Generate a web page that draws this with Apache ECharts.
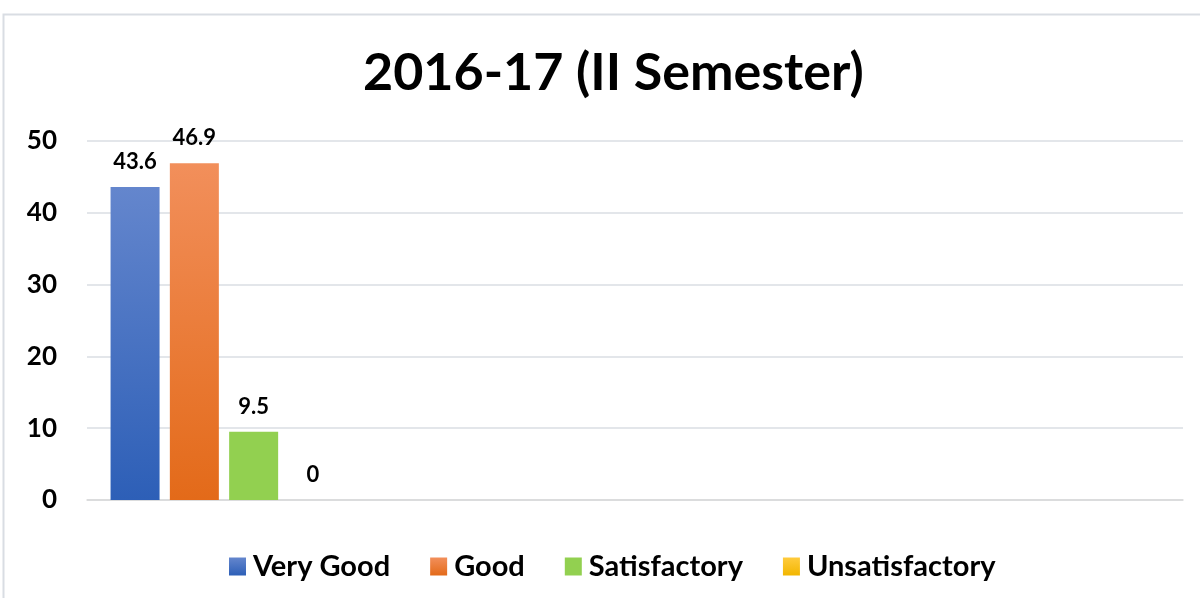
<!DOCTYPE html>
<html>
<head>
<meta charset="utf-8">
<script src="https://cdn.jsdelivr.net/npm/echarts@6/dist/echarts.min.js"></script>
<style>
  html, body { margin: 0; padding: 0; background: #fff; }
  #chart { width: 1200px; height: 598px; }
</style>
</head>
<body>
<div id="chart"></div>
<script>
// data
var categories = ["", "", "", ""];
var seriesNames = ["Very Good", "Good", "Satisfactory", "Unsatisfactory"];
var veryGood = [43.6, null, null, null];
var good = [46.9, null, null, null];
var satisfactory = [9.5, null, null, null];
var unsatisfactory = [0, null, null, null];
var yTicks = [0, 10, 20, 30, 40, 50];

var chart = echarts.init(document.getElementById("chart"));

function grad(top, bottom) {
  return new echarts.graphic.LinearGradient(0, 0, 0, 1, [
    { offset: 0, color: top },
    { offset: 1, color: bottom }
  ]);
}

var colors = [
  grad("#6486cd", "#2d5fb7"),
  grad("#f28f5b", "#e36a19"),
  "#92d050",
  grad("#ffcb3d", "#f2b600")
];

var font = "Lato, 'Open Sans', sans-serif";

function makeSeries(name, data, color) {
  return {
    name: name,
    type: "bar",
    data: data,
    barWidth: 49,
    barGap: "21%",
    itemStyle: { color: color },
    label: {
      show: true,
      position: "top",
      distance: 14,
      fontFamily: font,
      fontWeight: "bold",
      fontSize: 22,
      color: "#000"
    }
  };
}

var option = {
  backgroundColor: "#fff",
  textStyle: { fontFamily: font },
  title: {
    text: "2016-17 (II Semester)",
    left: 358,
    top: 42,
    textStyle: { fontFamily: font, fontWeight: "bold", fontSize: 52, color: "#000" }
  },
  graphic: [{
    type: "rect",
    shape: { x: 3.5, y: 14.5, width: 1210, height: 600 },
    style: { fill: "none", stroke: "#d9dde3", lineWidth: 2 },
    silent: true
  }],
  legend: {
    data: seriesNames,
    top: 547,
    left: 224,
    itemWidth: 17,
    itemHeight: 18,
    itemGap: 40,
    icon: "rect",
    textStyle: { fontFamily: font, fontWeight: "bold", fontSize: 29, color: "#000", padding: [0, 0, 0, 2] }
  },
  grid: { left: 87, right: 17, top: 141, bottom: 98, containLabel: false },
  xAxis: {
    type: "category",
    data: categories,
    axisLine: { lineStyle: { color: "#d9d9d9", width: 1.5 } },
    axisTick: { show: false },
    axisLabel: { show: false }
  },
  yAxis: {
    type: "value",
    min: yTicks[0],
    max: yTicks[yTicks.length - 1],
    interval: 10,
    axisLine: { show: false },
    axisTick: { show: false },
    axisLabel: {
      margin: 30,
      fontFamily: font,
      fontWeight: "bold",
      fontSize: 26,
      color: "#000"
    },
    splitLine: { lineStyle: { color: "#e3e6ea", width: 2 } }
  },
  series: [
    makeSeries(seriesNames[0], veryGood, colors[0]),
    makeSeries(seriesNames[1], good, colors[1]),
    makeSeries(seriesNames[2], satisfactory, colors[2]),
    makeSeries(seriesNames[3], unsatisfactory, colors[3])
  ]
};

chart.setOption(option);
</script>
</body>
</html>
